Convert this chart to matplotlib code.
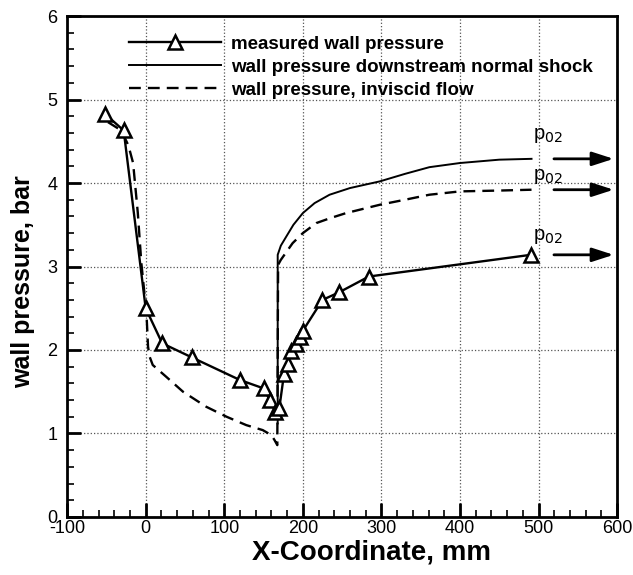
import numpy as np
import matplotlib
matplotlib.use('Agg')
import matplotlib.pyplot as plt
from matplotlib.ticker import MultipleLocator

plt.rcParams['font.family'] = ['Liberation Sans', 'DejaVu Sans']
plt.rcParams['axes.unicode_minus'] = False

# measured wall pressure (triangles)
meas_x = [-52, -28, 0, 21, 59, 120, 150, 158, 165, 170, 176, 181, 184.5, 191, 196, 200, 225, 246, 284, 490]
meas_y = [4.83, 4.63, 2.50, 2.08, 1.91, 1.64, 1.54, 1.40, 1.26, 1.30, 1.71, 1.83, 1.99, 2.07, 2.15, 2.23, 2.60, 2.69, 2.88, 3.14]

# wall pressure downstream normal shock
shock_x = [168, 168, 172, 179, 188, 200, 215, 234, 260, 298, 330, 361, 400, 450, 491]
shock_y = [1.12, 3.14, 3.25, 3.36, 3.50, 3.64, 3.76, 3.86, 3.94, 4.02, 4.11, 4.19, 4.24, 4.28, 4.29]

# wall pressure, inviscid flow
invis_x = [-48, -31, -22, -16, -10, -5.5, 1, 3, 5, 9, 26, 47.5, 77, 103, 128, 149, 160, 164, 167.5,
           168.5, 172, 187, 200, 217, 235, 255, 298, 330, 361, 400, 450, 491]
invis_y = [4.73, 4.63, 4.45, 4.24, 3.64, 3.04, 2.44, 2.04, 1.92, 1.82, 1.68, 1.50, 1.32, 1.20, 1.10, 1.04, 0.98, 0.92, 0.86,
           3.02, 3.08, 3.28, 3.40, 3.52, 3.58, 3.64, 3.74, 3.80, 3.86, 3.90, 3.91, 3.92]

# p02 arrows
p02_y = [4.29, 3.92, 3.14]
p02_label_y = [4.57, 4.08, 3.36]

fig = plt.figure(figsize=(6.33, 5.75), dpi=100)
ax = fig.add_axes([0.106, 0.101, 0.869, 0.871])

ax.plot(meas_x, meas_y, color='black', lw=1.7, marker='^', markersize=10,
        markerfacecolor='white', markeredgecolor='black', markeredgewidth=1.8,
        label='measured wall pressure', zorder=4)
ax.plot(shock_x, shock_y, color='black', lw=1.4, label='wall pressure downstream normal shock', zorder=3)
ax.plot(invis_x, invis_y, color='black', lw=1.7, linestyle=(0, (5, 3)),
        label='wall pressure, inviscid flow', zorder=3)

for yv, ly in zip(p02_y, p02_label_y):
    ax.annotate('', xy=(599, yv), xytext=(516, yv),
                arrowprops=dict(arrowstyle='-|>,head_length=1.3,head_width=0.42', color='black', lw=2))
    ax.text(493, ly, r'p$_{02}$', fontsize=14.5, ha='left', va='center')

ax.set_xlim(-100, 600)
ax.set_ylim(0, 6)
ax.xaxis.set_major_locator(MultipleLocator(100))
ax.xaxis.set_minor_locator(MultipleLocator(20))
ax.yaxis.set_major_locator(MultipleLocator(1))
ax.yaxis.set_minor_locator(MultipleLocator(0.2))
ax.tick_params(which='major', direction='in', length=10, width=2, labelsize=13)
ax.tick_params(axis='x', which='major', pad=2)
ax.tick_params(axis='y', which='major', pad=7)
ax.tick_params(which='minor', direction='in', length=5, width=1.2)
ax.grid(True, which='major', linestyle=':', color='#555555', lw=0.9)
for s in ax.spines.values():
    s.set_linewidth(2)

ax.set_xlabel('X-Coordinate, mm', fontsize=20, fontweight='bold')
ax.xaxis.set_label_coords(0.553, -0.045)
ax.set_ylabel('wall pressure, bar', fontsize=18, fontweight='bold')
ax.yaxis.set_label_coords(-0.058, 0.47)

leg = ax.legend(loc='upper left', bbox_to_anchor=(0.082, 0.995), frameon=False,
                handlelength=4.9, handletextpad=0.55, labelspacing=0.32,
                prop=dict(weight='bold', size=13.5))

fig.savefig('out.png', dpi=100)
